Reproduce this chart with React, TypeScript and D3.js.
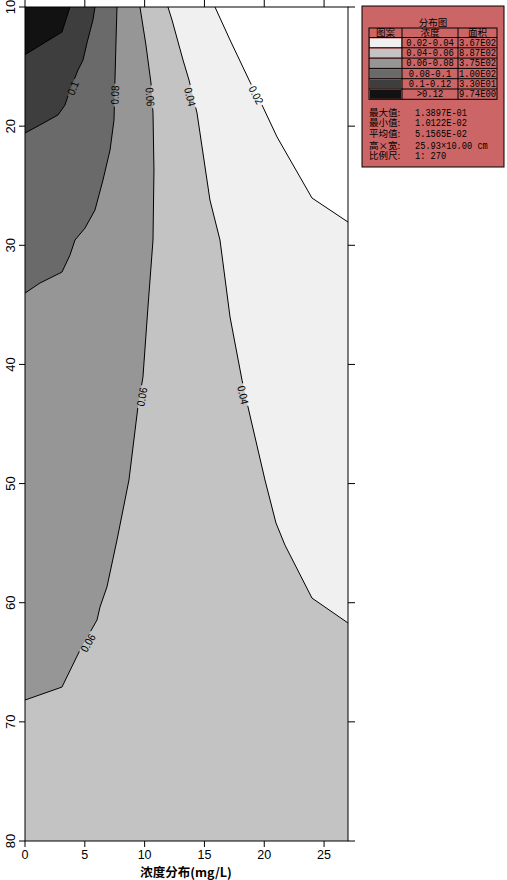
import React from 'react';
import * as d3 from 'd3';

type Pt = [number, number]; // [浓度 x (mg/L), 深度 y]

const xTicks = [0, 5, 10, 15, 20, 25];
const yTicks = [10, 20, 30, 40, 50, 60, 70, 80];

// isolines, top edge -> side edge
const line002: Pt[] = [
  [15.88, 10], [17.14, 12.77], [18.81, 16.3], [19.89, 18.39], [21.07, 20.91], [23.99, 26.03], [27, 28.05],
];
const line004: Pt[] = [
  [11.95, 10], [12.29, 11.09], [13.21, 14.45], [13.71, 16.13], [14.38, 18.9], [15.46, 26.2], [16.3, 29.56],
  [17.14, 36.02], [18.14, 41.31], [18.64, 43.57], [20.06, 49.7], [20.98, 53.31], [21.73, 55.16],
  [23.99, 59.61], [27, 61.7],
];
const line006: Pt[] = [
  [9.61, 10], [10.11, 13.19], [10.53, 16.38], [10.7, 18.9], [10.78, 23.68], [10.7, 29.56], [10.28, 35.18],
  [9.86, 41.06], [9.44, 43.57], [9.03, 46.93], [8.69, 49.7], [7.69, 54.74], [6.85, 58.68], [6.27, 60.36],
  [6.02, 61.45], [4.6, 63.97], [3.09, 67.08], [0, 68.17],
];
const line008: Pt[] = [
  [7.69, 10], [7.61, 12.77], [7.52, 16.13], [7.44, 19.48], [7.11, 22.0], [6.52, 24.52], [5.85, 27.04],
  [5.02, 28.55], [4.18, 29.56], [3.76, 30.82], [3.09, 32.25], [1.25, 33.17], [0, 34.01],
];
const line010: Pt[] = [
  [5.85, 10], [5.68, 11.09], [5.18, 13.02], [4.85, 14.45], [4.43, 15.29], [3.76, 16.97], [3.34, 18.23],
  [2.76, 19.06], [1.25, 19.9], [0, 20.58],
];
const line012: Pt[] = [[3.76, 10], [3.09, 12.1], [0, 14.0]];

// contour labels: text, position, reads upward?
const labelText = ['0.1', '0.08', '0.06', '0.04', '0.02', '0.06', '0.04', '0.06'];
const labelPos: Pt[] = [
  [4.01, 16.8], [7.52, 17.39], [10.45, 17.55], [13.79, 17.55], [19.31, 17.39], [9.78, 42.73], [18.22, 42.57], [5.27, 63.38],
];
const labelLine = [line010, line008, line006, line004, line002, line006, line004, line006];
const labelUp = [true, true, false, false, false, true, false, true];

// legend
const legendRanges = ['0.02-0.04', '0.04-0.06', '0.06-0.08', '0.08-0.1', '0.1-0.12', '>0.12'];
const legendAreas = ['3.67E02', '8.87E02', '3.75E02', '1.00E02', '3.30E01', '9.74E00'];
const legendColors = ['#f0f0f0', '#c3c3c3', '#969696', '#6a6a6a', '#3e3e3e', '#121212'];
const statLabels = ['最大值:', '最小值:', '平均值:', '高×宽:', '比例尺:'];
const statValues = ['1.3897E-01', '1.0122E-02', '5.1565E-02', '25.93×10.00 cm', '1: 270'];

const W = 507;
const H = 880;
const plot = { left: 25, right: 348, top: 7, bottom: 841 };

const x = d3.scaleLinear().domain([0, 27]).range([plot.left, plot.right]);
const y = d3.scaleLinear().domain([10, 80]).range([plot.top, plot.bottom]);

const lineGen = d3.line<Pt>().x(d => x(d[0])).y(d => y(d[1]));

const leftPoly = (pts: Pt[]): Pt[] => [[0, 10], ...pts];
const rightPoly = (pts: Pt[]): Pt[] => [...pts, [27, 10]];

const fills = [
  { pts: rightPoly(line004), color: '#f0f0f0' },
  { pts: rightPoly(line002), color: '#ffffff' },
  { pts: leftPoly(line006), color: '#969696' },
  { pts: leftPoly(line008), color: '#6a6a6a' },
  { pts: leftPoly(line010), color: '#3e3e3e' },
  { pts: leftPoly(line012), color: '#121212' },
];

// angle of the isoline nearest to the label point (screen space)
const labelAngle = (pts: Pt[], p: Pt, up: boolean) => {
  const px = x(p[0]);
  const py = y(p[1]);
  let best = 0;
  let bestD = Infinity;
  for (let i = 0; i < pts.length - 1; i++) {
    const ax = x(pts[i][0]), ay = y(pts[i][1]);
    const bx = x(pts[i + 1][0]), by = y(pts[i + 1][1]);
    const mx = (ax + bx) / 2, my = (ay + by) / 2;
    const dd = (mx - px) ** 2 + (my - py) ** 2;
    if (dd < bestD) {
      bestD = dd;
      best = (Math.atan2(by - ay, bx - ax) * 180) / Math.PI;
    }
  }
  return up ? best + 180 : best;
};

const labelFont = '"Liberation Sans", Arial, sans-serif';
const cjk = '"Noto Sans CJK SC", sans-serif';
const mono = '"Liberation Mono", "DejaVu Sans Mono", monospace';
const monoW = 5.3; // half-width glyph advance in the legend

const Legend: React.FC = () => {
  const bx = 362, by = 6, bw = 142, bh = 161;
  const tl = 369, tr = 497, c1 = 402, c2 = 458;
  const tTop = 28, headH = 9.5, rowH = 10.3;
  const rowsBottom = tTop + headH + rowH * legendRanges.length;
  return (
    <g>
      <rect x={bx} y={by} width={bw} height={bh} fill="#cc6666" stroke="#000" strokeWidth={1} />
      <text x={(tl + tr) / 2} y={25.5} textAnchor="middle" fontSize={9.5} fontFamily={cjk}>分布图</text>
      <rect x={tl} y={tTop} width={tr - tl} height={rowsBottom - tTop} fill="none" stroke="#000" />
      <line x1={c1} x2={c1} y1={tTop} y2={rowsBottom} stroke="#000" />
      <line x1={c2} x2={c2} y1={tTop} y2={rowsBottom} stroke="#000" />
      <text x={(tl + c1) / 2} y={tTop + 8.3} textAnchor="middle" fontSize={9.5} fontFamily={cjk}>图案</text>
      <text x={(c1 + c2) / 2} y={tTop + 8.3} textAnchor="middle" fontSize={9.5} fontFamily={cjk}>浓度</text>
      <text x={(c2 + tr) / 2} y={tTop + 8.3} textAnchor="middle" fontSize={9.5} fontFamily={cjk}>面积</text>
      {legendRanges.map((r, i) => {
        const ry = tTop + headH + i * rowH;
        return (
          <g key={r}>
            <line x1={tl} x2={tr} y1={ry} y2={ry} stroke="#000" />
            <rect x={tl + 1} y={ry + 1} width={c1 - tl - 2} height={rowH - 1.5} fill={legendColors[i]} />
            <text x={(c1 + c2) / 2} y={ry + 8.3} textAnchor="middle" fontSize={10} fontFamily={mono}
              textLength={r.length * monoW} lengthAdjust="spacingAndGlyphs">{r}</text>
            <text x={(c2 + tr) / 2} y={ry + 8.3} textAnchor="middle" fontSize={10} fontFamily={mono}
              textLength={legendAreas[i].length * monoW} lengthAdjust="spacingAndGlyphs">{legendAreas[i]}</text>
          </g>
        );
      })}
      {statLabels.map((s, i) => {
        const cy = 112 + i * 10.6 + (i >= 3 ? 1.5 : 0);
        return (
          <g key={s}>
            <text x={tl} y={cy + 3.5} fontSize={9.5} fontFamily={cjk}>{s}</text>
            <text x={415} y={cy + 3.5} fontSize={10} fontFamily={mono}
              textLength={statValues[i].length * (monoW - 0.1)} lengthAdjust="spacingAndGlyphs">{statValues[i]}</text>
          </g>
        );
      })}
    </g>
  );
};

const App: React.FC = () => {
  const isolines = [line002, line004, line006, line008, line010, line012];
  return (
    <svg width={W} height={H} style={{ position: 'absolute', left: 0, top: 0, background: '#fff' }}>
      <defs>
        <clipPath id="plotClip">
          <rect x={plot.left} y={plot.top} width={plot.right - plot.left} height={plot.bottom - plot.top} />
        </clipPath>
        <mask id="labelGaps" maskUnits="userSpaceOnUse" x={0} y={0} width={W} height={H}>
          <rect x={0} y={0} width={W} height={H} fill="#fff" />
          {labelText.map((t, i) => {
            const p = labelPos[i];
            const a = labelAngle(labelLine[i], p, labelUp[i]);
            const w = t.length * 5 + 3;
            return (
              <rect key={i} x={-w / 2} y={-5} width={w} height={10} fill="#000"
                transform={`translate(${x(p[0])},${y(p[1])}) rotate(${a})`} />
            );
          })}
        </mask>
      </defs>

      <g clipPath="url(#plotClip)">
        <rect x={plot.left} y={plot.top} width={plot.right - plot.left} height={plot.bottom - plot.top} fill="#c3c3c3" />
        {fills.map((f, i) => (
          <path key={i} d={lineGen(f.pts) + 'Z'} fill={f.color} stroke="none" />
        ))}
        <g mask="url(#labelGaps)">
          {isolines.map((l, i) => (
            <path key={i} d={lineGen(l) || ''} fill="none" stroke="#000" strokeWidth={1} />
          ))}
        </g>
        {labelText.map((t, i) => {
          const p = labelPos[i];
          const a = labelAngle(labelLine[i], p, labelUp[i]);
          return (
            <text key={i} transform={`translate(${x(p[0])},${y(p[1])}) rotate(${a})`}
              textAnchor="middle" dy="0.35em" fontSize={11} fontFamily={labelFont} fill="#000"
              textLength={t.length * 4.7} lengthAdjust="spacingAndGlyphs">{t}</text>
          );
        })}
      </g>

      <rect x={plot.left} y={plot.top} width={plot.right - plot.left} height={plot.bottom - plot.top}
        fill="none" stroke="#000" strokeWidth={1} />

      {/* left + right axis ticks */}
      {yTicks.map(t => (
        <g key={'y' + t}>
          <line x1={plot.left - 6} x2={plot.left} y1={y(t)} y2={y(t)} stroke="#000" />
          <line x1={plot.right} x2={plot.right + 7} y1={y(t)} y2={y(t)} stroke="#000" />
          <text transform={`translate(15,${y(t)}) rotate(-90)`} textAnchor="middle"
            fontSize={13} fontFamily={labelFont} fill="#000">{t}</text>
        </g>
      ))}
      {/* bottom + top axis ticks */}
      {xTicks.map(t => (
        <g key={'x' + t}>
          <line x1={x(t)} x2={x(t)} y1={plot.bottom} y2={plot.bottom + 6} stroke="#000" />
          <line x1={x(t)} x2={x(t)} y1={plot.top - 7} y2={plot.top} stroke="#000" />
          <text x={x(t)} y={859} textAnchor="middle" fontSize={12.5} fontFamily={labelFont} fill="#000">{t}</text>
        </g>
      ))}
      <text x={186} y={876.5} textAnchor="middle" fontSize={12.5} fontWeight="bold" fontFamily={cjk} fill="#000">
        浓度分布(mg/L)
      </text>

      <Legend />
    </svg>
  );
};

export default App;
